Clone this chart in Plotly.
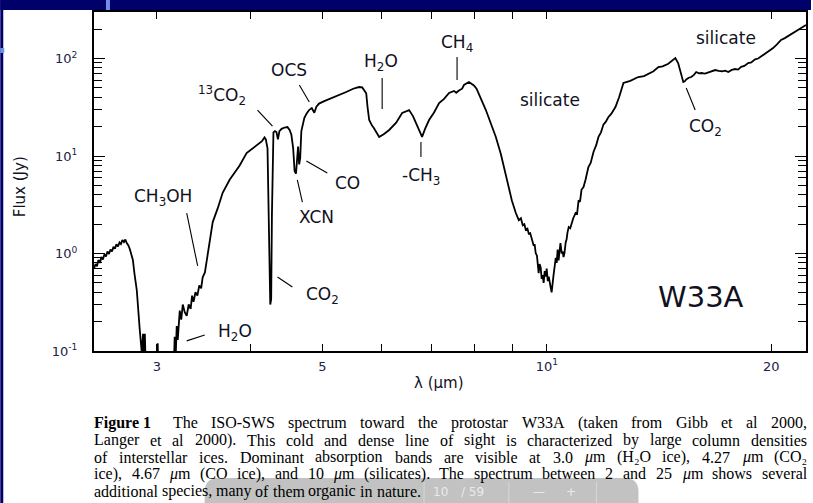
import math
import re
import plotly.graph_objects as go

# ISO-SWS spectrum of W33A: wavelength (micron) and flux (Jy)
wavelength = [
    2.471, 2.483, 2.494, 2.505, 2.517, 2.528, 2.540, 2.552, 2.564, 2.576,
    2.588, 2.600, 2.612, 2.624, 2.636, 2.648, 2.661, 2.673, 2.685, 2.697,
    2.710, 2.722, 2.735, 2.748, 2.761, 2.786, 2.800, 2.820, 2.846, 2.864,
    2.875, 2.883, 2.891, 2.900, 2.950, 3.000, 3.008, 3.016, 3.100, 3.160,
    3.170, 3.180, 3.190, 3.200, 3.220, 3.235, 3.250, 3.270, 3.290, 3.310,
    3.330, 3.345, 3.360, 3.380, 3.400, 3.420, 3.440, 3.456, 3.480, 3.500,
    3.530, 3.565, 3.620, 3.676, 3.756, 3.874, 3.958, 4.020, 4.082, 4.150,
    4.183, 4.200, 4.222, 4.240, 4.258, 4.270, 4.280, 4.300, 4.320, 4.340,
    4.360, 4.380, 4.410, 4.450, 4.490, 4.520, 4.545, 4.570, 4.590, 4.610,
    4.625, 4.640, 4.655, 4.670, 4.687, 4.710, 4.730, 4.760, 4.800, 4.840,
    4.878, 4.910, 4.950, 5.030, 5.156, 5.268, 5.383, 5.500, 5.600, 5.656,
    5.726, 5.750, 5.779, 5.830, 5.860, 5.960, 6.050, 6.147, 6.281, 6.398,
    6.537, 6.618, 6.680, 6.742, 6.804, 6.867, 6.952, 7.060, 7.171, 7.282,
    7.395, 7.510, 7.560, 7.624, 7.700, 7.743, 7.863, 7.985, 8.050, 8.285,
    8.413, 8.544, 8.677, 8.812, 8.977, 9.088, 9.172, 9.230, 9.285, 9.330,
    9.371, 9.420, 9.457, 9.500, 9.545, 9.603, 9.630, 9.663, 9.700, 9.723,
    9.752, 9.780, 9.813, 9.843, 9.870, 9.903, 9.935, 9.965, 9.996, 10.03,
    10.06, 10.12, 10.15, 10.21, 10.25, 10.28, 10.31, 10.34, 10.37, 10.40,
    10.43, 10.47, 10.50, 10.53, 10.56, 10.60, 10.63, 10.66, 10.70, 10.75,
    10.79, 10.85, 10.93, 10.98, 11.03, 11.08, 11.13, 11.20, 11.27, 11.37,
    11.45, 11.55, 11.65, 11.73, 11.82, 11.91, 12.00, 12.09, 12.20, 12.36,
    12.50, 12.67, 12.94, 13.26, 13.50, 13.68, 13.90, 14.11, 14.30, 14.55,
    14.75, 14.87, 15.00, 15.14, 15.24, 15.31, 15.38, 15.50, 15.62, 15.75,
    15.86, 16.00, 16.11, 16.30, 16.46, 16.65, 16.82, 17.00, 17.18, 17.35,
    17.51, 17.70, 17.89, 18.05, 18.22, 18.40, 18.62, 18.80, 19.02, 19.20,
    19.38, 19.50, 19.62, 19.80, 20.11, 20.35, 20.61, 20.85, 21.06, 21.40,
    21.72, 22.00, 22.26,
]
flux = [
    0.70, 0.78, 0.74, 0.86, 0.80, 0.92, 0.87, 0.98, 0.93, 1.05,
    0.99, 1.10, 1.05, 1.17, 1.12, 1.24, 1.18, 1.30, 1.25, 1.37,
    1.31, 1.39, 1.27, 1.21, 1.10, 0.86, 0.62, 0.42, 0.164, 0.095,
    0.15, 0.08, 0.15, 0.06, 0.05, 0.05, 0.12, 0.05, 0.05, 0.06,
    0.14, 0.09, 0.18, 0.13, 0.26, 0.21, 0.30, 0.25, 0.23, 0.30,
    0.27, 0.37, 0.32, 0.40, 0.37, 0.47, 0.44, 0.57, 0.64, 0.86,
    1.30, 2.10, 2.90, 4.20, 5.70, 8.00, 10.7, 11.8, 12.8, 14.2,
    15.5, 14.8, 12.0, 2.0, 0.30, 0.34, 2.5, 17.5, 18.0, 17.6,
    14.8, 18.0, 19.0, 19.6, 19.8, 18.5, 16.5, 12.0, 7.0, 6.6,
    10.5, 12.5, 8.2, 9.5, 18.0, 22.0, 24.5, 27.0, 29.6, 31.0,
    27.8, 32.0, 34.5, 36.5, 39.4, 42.0, 45.3, 49.0, 51.0, 50.5,
    44.0, 31.8, 23.4, 20.5, 19.5, 15.7, 16.8, 18.5, 22.0, 27.6,
    29.6, 25.5, 21.8, 18.0, 15.7, 19.0, 23.4, 28.0, 35.0, 38.5,
    44.3, 46.5, 44.5, 47.0, 49.0, 53.5, 57.4, 53.0, 49.0, 29.6,
    22.0, 15.7, 10.5, 6.5, 3.5, 2.6, 2.2, 2.3, 1.95, 2.0,
    1.75, 1.80, 1.60, 1.62, 1.37, 1.20, 1.25, 1.01, 0.95, 0.80,
    0.63, 0.78, 0.72, 0.55, 0.60, 0.50, 0.66, 0.58, 0.70, 0.52,
    0.58, 0.45, 0.40, 0.60, 0.74, 0.90, 0.80, 1.10, 0.85, 1.15,
    1.28, 1.00, 1.05, 0.92, 1.01, 1.30, 1.40, 1.65, 1.87, 1.82,
    2.05, 2.30, 2.60, 2.55, 3.5, 3.4, 4.5, 4.8, 5.7, 7.7,
    8.5, 11.0, 13.0, 15.7, 17.5, 21.0, 22.5, 25.0, 27.0, 31.8,
    40.0, 56.1, 59.0, 64.6, 66.0, 69.5, 74.0, 81.8, 83.0, 88.5,
    95.0, 101.0, 89.9, 70.0, 57.4, 58.5, 61.0, 63.5, 64.6, 68.0,
    72.7, 70.5, 71.0, 70.0, 72.0, 73.5, 76.2, 74.5, 74.0, 75.0,
    72.7, 76.5, 78.0, 77.0, 82.0, 84.0, 89.9, 91.0, 98.0, 100.0,
    105.0, 110.0, 114.0, 118.0, 128.0, 140.0, 155.0, 162.0, 170.0, 185.0,
    196.0, 208.0, 221.0,
]

# Feature labels: text, wavelength, flux
label_text = [
    "silicate", "silicate", "CH<sub>4</sub>", "H<sub>2</sub>O", "-CH<sub>3</sub>",
    "CO<sub>2</sub>", "OCS", "<sup>13</sup>CO<sub>2</sub>", "CO", "XCN",
    "CH<sub>3</sub>OH", "CO<sub>2</sub>", "H<sub>2</sub>O",
]
label_wl = [17.40, 10.1, 7.58, 6.0, 6.78, 16.31, 4.517, 3.664, 5.40, 4.909, 3.056, 5.0, 3.815]
label_flux = [162, 37.5, 144, 92, 6.1, 19.4, 76.2, 42.2, 5.28, 2.37, 3.71, 0.375, 0.153]

# Pointer segments from each label toward its band: (wl0, f0) -> (wl1, f1)
pointer_wl0 = [7.58, 6.015, 6.78, 15.38, 4.658, 4.093, 4.760, 4.629, 3.29, 4.354, 3.29]
pointer_f0 = [103.6, 63.1, 13.9, 49.8, 53.5, 29.6, 8.89, 5.68, 2.60, 0.574, 0.127]
pointer_wl1 = [7.58, 6.015, 6.78, 15.81, 4.803, 4.287, 5.078, 4.702, 3.403, 4.559, 3.478]
pointer_f1 = [60.2, 30.3, 9.77, 29.6, 35.8, 20.3, 6.69, 3.37, 0.745, 0.453, 0.146]

x_major = [3, 5, 10, 20]
x_major_text = ["3", "5", "10<sup>1</sup>", "20"]
x_minor = [4, 6, 7, 8, 9]
y_major = [0.1, 1, 10, 100]
y_major_text = ["10<sup>-1</sup>", "10<sup>0</sup>", "10<sup>1</sup>", "10<sup>2</sup>"]
y_minor = [m * d for d in (0.1, 1, 10) for m in range(2, 10)] + [200]

mu = "<i>μ</i>m"
caption_lines = [
    ["<b>Figure 1</b>", "The", "ISO-SWS", "spectrum", "toward", "the", "protostar", "W33A",
     "(taken", "from", "Gibb", "et", "al", "2000,"],
    ["Langer", "et", "al", "2000).", "This", "cold", "and", "dense", "line", "of", "sight", "is",
     "characterized", "by", "large", "column", "densities"],
    ["of", "interstellar", "ices.", "Dominant", "absorption", "bands", "are", "visible", "at",
     "3.0", mu, "(H₂O", "ice),", "4.27", mu, "(CO₂"],
    ["ice),", "4.67", mu, "(CO", "ice),", "and", "10", mu, "(silicates).", "The", "spectrum",
     "between", "2", "and", "25", mu, "shows", "several"],
    ["additional", "species,", "many", "of", "them", "organic", "in", "nature."],
]
caption_justified = [True, True, True, True, False]

W, H = 813, 503
L, R, T, B = 94, 5, 12, 152
PW, PH = W - L - R, H - T - B


def px(x):
    return (x - L) / PW


def py(y):
    return (H - B - y) / PH


# Times-style advance widths (1/1000 em) used to lay out the justified caption
_reg = dict(zip("abcdefghijklmnopqrstuvwxyz",
                [444, 500, 444, 500, 444, 333, 500, 500, 278, 278, 500, 278, 778,
                 500, 500, 500, 500, 333, 389, 278, 500, 500, 722, 500, 500, 444]))
_reg.update(dict(zip("ABCDEFGHIJKLMNOPQRSTUVWXYZ",
                     [722, 667, 667, 722, 611, 556, 722, 722, 333, 389, 722, 611, 889,
                      722, 722, 556, 722, 667, 556, 611, 722, 722, 944, 722, 722, 611])))
_reg.update({d: 500 for d in "0123456789"})
_reg.update({" ": 250, "(": 333, ")": 333, ",": 250, ".": 250, "-": 333, "μ": 500, "₂": 350})
_bold = {"F": 611, "i": 278, "g": 500, "u": 556, "r": 444, "e": 444, "1": 500, " ": 250}


def word_width(word, size):
    em, bold = 0.0, False
    for tok in re.split(r"(<[^>]+>)", word):
        if tok.startswith("<"):
            if tok.strip("</>") == "b":
                bold = not tok.startswith("</")
            continue
        for ch in tok:
            em += (_bold if bold else _reg).get(ch, 500)
    return em / 1000.0 * size


NAVY = "#00006b"
INK = "#111122"
SANS = "DejaVu Sans"
SERIF = "Liberation Serif"
CAP_SIZE = 16

fig = go.Figure()

fig.add_trace(go.Scatter(
    x=wavelength, y=flux, mode="lines",
    line=dict(color="black", width=1.8),
    hoverinfo="skip", showlegend=False,
))

seg_x, seg_y = [], []
for a, b, c, d in zip(pointer_wl0, pointer_f0, pointer_wl1, pointer_f1):
    seg_x += [a, c, None]
    seg_y += [b, d, None]
fig.add_trace(go.Scatter(
    x=seg_x, y=seg_y, mode="lines",
    line=dict(color="black", width=1.1),
    hoverinfo="skip", showlegend=False,
))

annotations = []
for t, wl, f in zip(label_text, label_wl, label_flux):
    annotations.append(dict(
        x=math.log10(wl), y=math.log10(f), xref="x", yref="y", text=t,
        showarrow=False, font=dict(family=SANS, size=17, color=INK),
    ))

annotations.append(dict(
    x=math.log10(16.11), y=math.log10(0.358), xref="x", yref="y", text="W33A",
    showarrow=False, font=dict(family=SANS, size=29, color=INK),
))

annotations.append(dict(
    x=px(440), y=py(383), xref="paper", yref="paper", text="λ (μm)",
    xanchor="center", yanchor="middle",
    showarrow=False, font=dict(family=SANS, size=15, color=INK),
))
annotations.append(dict(
    x=px(20), y=py(187), xref="paper", yref="paper", text="Flux (Jy)",
    xanchor="center", yanchor="middle",
    textangle=-90, showarrow=False, font=dict(family=SANS, size=15, color=INK),
))

# caption, justified between the plot edges
cap_left, cap_right = 93, 808
for i, (words, just) in enumerate(zip(caption_lines, caption_justified)):
    widths = [word_width(w, CAP_SIZE) for w in words]
    extra = [0.0] * len(words)
    if i == 0:
        extra[0] = 0.5 * CAP_SIZE
    if just:
        gap = (cap_right - cap_left - sum(widths) - sum(extra)) / (len(words) - 1)
    else:
        gap = 0.25 * CAP_SIZE
    xpos = cap_left
    for w, wd, ex in zip(words, widths, extra):
        annotations.append(dict(
            x=px(xpos), y=py(423 + 17 * i), xref="paper", yref="paper", text=w,
            xanchor="left", yanchor="middle", showarrow=False, borderpad=0,
            font=dict(family=SERIF, size=CAP_SIZE, color="black"),
        ))
        xpos += wd + ex + gap

# slide frame decorations
shapes = [
    dict(type="rect", xref="paper", yref="paper", x0=px(0), x1=px(W), y0=py(10), y1=py(0),
         fillcolor=NAVY, line=dict(width=0), layer="above"),
    dict(type="rect", xref="paper", yref="paper", x0=px(0), x1=px(3), y0=py(H), y1=py(0),
         fillcolor=NAVY, line=dict(width=0), layer="above"),
    dict(type="rect", xref="paper", yref="paper", x0=px(106), x1=px(110), y0=py(10), y1=py(0),
         fillcolor="#6f8fe8", line=dict(width=0), layer="above"),
    dict(type="rect", xref="paper", yref="paper", x0=px(0), x1=px(4), y0=py(53), y1=py(48),
         fillcolor="#6f8fe8", line=dict(width=0), layer="above"),
]

# viewer toolbar overlay at the bottom
tb_x0, tb_x1, tb_y0, tb_y1, rr = 205, 640, 478, 515, 14
shapes.append(dict(
    type="path", xref="paper", yref="paper",
    path=(f"M {px(tb_x0 + rr)} {py(tb_y0)} L {px(tb_x1 - rr)} {py(tb_y0)} "
          f"Q {px(tb_x1)} {py(tb_y0)} {px(tb_x1)} {py(tb_y0 + rr)} "
          f"L {px(tb_x1)} {py(tb_y1)} L {px(tb_x0)} {py(tb_y1)} "
          f"L {px(tb_x0)} {py(tb_y0 + rr)} Q {px(tb_x0)} {py(tb_y0)} {px(tb_x0 + rr)} {py(tb_y0)} Z"),
    fillcolor="rgba(120,120,120,0.45)", line=dict(width=0), layer="above",
))
for sx in (425, 510, 598):
    shapes.append(dict(
        type="line", xref="paper", yref="paper", x0=px(sx), x1=px(sx), y0=py(482), y1=py(503),
        line=dict(color="rgba(230,230,230,0.6)", width=1), layer="above",
    ))
for tx, tt in [(441, "10"), (474, "/ 59"), (540, "—"), (572, "+")]:
    annotations.append(dict(
        x=px(tx), y=py(492), xref="paper", yref="paper", text=tt, showarrow=False,
        xanchor="center", yanchor="middle",
        font=dict(family=SANS, size=12, color="rgba(240,240,240,0.9)"),
    ))

axis_common = dict(
    type="log", showline=True, linecolor="black", linewidth=2, mirror="ticks",
    ticks="inside", tickcolor="black", tickwidth=1, showgrid=False, zeroline=False,
    tickfont=dict(family=SANS, size=13, color="#222244"),
)

fig.update_layout(
    width=W, height=H,
    margin=dict(l=L, r=R, t=T, b=B),
    paper_bgcolor="white", plot_bgcolor="white",
    xaxis=dict(
        **axis_common,
        range=[math.log10(wavelength[0]), math.log10(wavelength[-1])],
        tickmode="array", tickvals=x_major, ticktext=x_major_text, ticklen=7,
        ticklabelstandoff=2,
        minor=dict(tickmode="array", tickvals=x_minor, ticks="inside", ticklen=7,
                   tickcolor="black", tickwidth=1, showgrid=False),
    ),
    yaxis=dict(
        **axis_common,
        range=[-1, math.log10(300)],
        tickmode="array", tickvals=y_major, ticktext=y_major_text, ticklen=11,
        ticklabelstandoff=12,
        minor=dict(tickmode="array", tickvals=y_minor, ticks="inside", ticklen=8,
                   tickcolor="black", tickwidth=1, showgrid=False),
    ),
    annotations=annotations,
    shapes=shapes,
)

fig.write_html("out.html")
